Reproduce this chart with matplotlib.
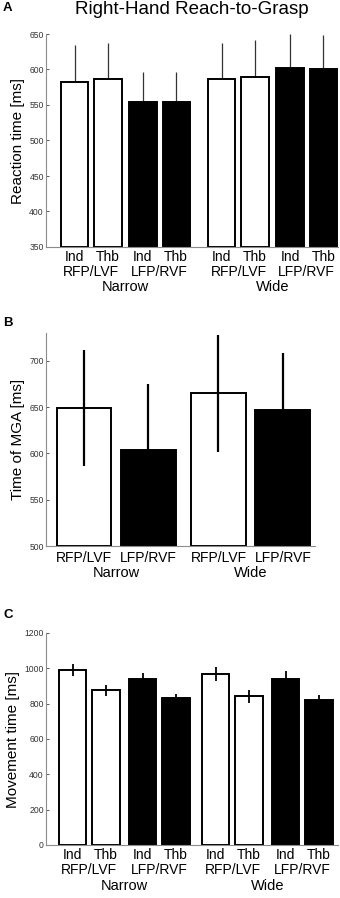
import matplotlib.pyplot as plt
import numpy as np

plt.rcParams['font.family'] = ['Liberation Sans', 'DejaVu Sans']

# Panel A: reaction time
rt_mean = [583, 586, 554, 554, 586, 590, 602, 600]
rt_err = [52, 52, 42, 42, 51, 51, 48, 48]
# Panel B: time of MGA
mga_mean = [649, 604, 665, 647]
mga_err = [63, 71, 63, 61]
# Panel C: movement time
mt_mean = [990, 875, 941, 830, 969, 841, 941, 822]
mt_err = [33, 33, 32, 25, 41, 36, 43, 29]

fingers = ['Ind', 'Thb']
fields = ['RFP/LVF', 'LFP/RVF']
groups = ['Narrow', 'Wide']
fill8 = ['white', 'white', 'black', 'black', 'white', 'white', 'black', 'black']
fill4 = ['white', 'black', 'white', 'black']

W, H = 340, 898
fig = plt.figure(figsize=(W / 100, H / 100), dpi=100)


def axes_px(left, top, right, bottom):
    return fig.add_axes([left / W, 1 - bottom / H, (right - left) / W, (bottom - top) / H])


def positions(n, gaps):
    # gaps: list of step sizes after each bar
    p = [0.0]
    for g in gaps[:n - 1]:
        p.append(p[-1] + g)
    return np.array(p)


def style(ax):
    for s in ['top', 'right']:
        ax.spines[s].set_visible(False)
    for s in ['left', 'bottom']:
        ax.spines[s].set_color('#8c8c8c')
        ax.spines[s].set_linewidth(0.8)
    ax.tick_params(axis='y', direction='in', length=2.5, width=0.7, color='#555555',
                   labelsize=6.2, labelcolor='#333333', pad=1.5)
    ax.set_xticks([])


def label(ax, x, text, dy, size=10):
    ax.annotate(text, xy=(x, 0), xycoords=('data', 'axes fraction'),
                xytext=(0, dy), textcoords='offset pixels',
                ha='center', va='center', fontsize=size)


# ---- A ----
axA = axes_px(46, 34, 338, 247)
xa = positions(8, [1.0, 1.05, 1.0, 1.37, 1.0, 1.05, 1.0])
axA.bar(xa, np.array(rt_mean) - 350, bottom=350, width=0.82, color=fill8,
        edgecolor='black', linewidth=1.4, zorder=2)
axA.errorbar(xa, rt_mean, yerr=rt_err, fmt='none', ecolor='#333333',
             elinewidth=0.9, capsize=0, zorder=1)
axA.set_ylim(350, 650)
axA.set_yticks(np.arange(350, 651, 50))
axA.set_xlim(xa[0] - 0.86, xa[-1] + 0.44)
style(axA)
axA.set_ylabel('Reaction time [ms]', fontsize=11, labelpad=3)
for i, x in enumerate(xa):
    label(axA, x, fingers[i % 2], -10)
for j in range(4):
    label(axA, xa[2 * j:2 * j + 2].mean(), fields[j % 2], -25)
for k in range(2):
    label(axA, xa[4 * k:4 * k + 4].mean(), groups[k], -40, 10.5)
fig.text(192 / W, 1 - 9 / H, 'Right-Hand Reach-to-Grasp', ha='center', va='center', fontsize=13.5)
fig.text(3 / W, 1 - 8 / H, 'A', ha='left', va='center', fontsize=9.5, fontweight='bold')

# ---- B ----
axB = axes_px(46, 333, 315, 546)
xb = positions(4, [1.0, 1.09, 1.0])
axB.bar(xb, np.array(mga_mean) - 500, bottom=500, width=0.85, color=fill4,
        edgecolor='black', linewidth=1.4, zorder=2)
axB.errorbar(xb, mga_mean, yerr=mga_err, fmt='none', ecolor='black',
             elinewidth=1.6, capsize=0, zorder=3)
axB.set_ylim(500, 730)
axB.set_yticks(np.arange(500, 701, 50))
axB.set_xlim(xb[0] - 0.59, xb[-1] + 0.5)
style(axB)
axB.set_ylabel('Time of MGA [ms]', fontsize=11, labelpad=3)
for j, x in enumerate(xb):
    label(axB, x, fields[j % 2], -12)
for k in range(2):
    label(axB, xb[2 * k:2 * k + 2].mean(), groups[k], -27, 10.5)
fig.text(3 / W, 1 - 323 / H, 'B', ha='left', va='center', fontsize=9.5, fontweight='bold')

# ---- C ----
axC = axes_px(46, 633, 338, 845)
xc = positions(8, [1.0, 1.1, 1.0, 1.2, 1.0, 1.1, 1.0])
axC.bar(xc, mt_mean, width=0.82, color=fill8,
        edgecolor='black', linewidth=1.4, zorder=2)
axC.errorbar(xc, mt_mean, yerr=mt_err, fmt='none', ecolor='black',
             elinewidth=1.3, capsize=0, zorder=3)
axC.set_ylim(0, 1200)
axC.set_yticks(np.arange(0, 1201, 200))
axC.set_xlim(xc[0] - 0.8, xc[-1] + 0.57)
style(axC)
axC.set_ylabel('Movement time [ms]', fontsize=11, labelpad=3)
for i, x in enumerate(xc):
    label(axC, x, fingers[i % 2], -10)
for j in range(4):
    label(axC, xc[2 * j:2 * j + 2].mean(), fields[j % 2], -25)
for k in range(2):
    label(axC, xc[4 * k:4 * k + 4].mean(), groups[k], -41, 10.5)
fig.text(3 / W, 1 - 615 / H, 'C', ha='left', va='center', fontsize=9.5, fontweight='bold')

fig.savefig('out.png', dpi=100)
